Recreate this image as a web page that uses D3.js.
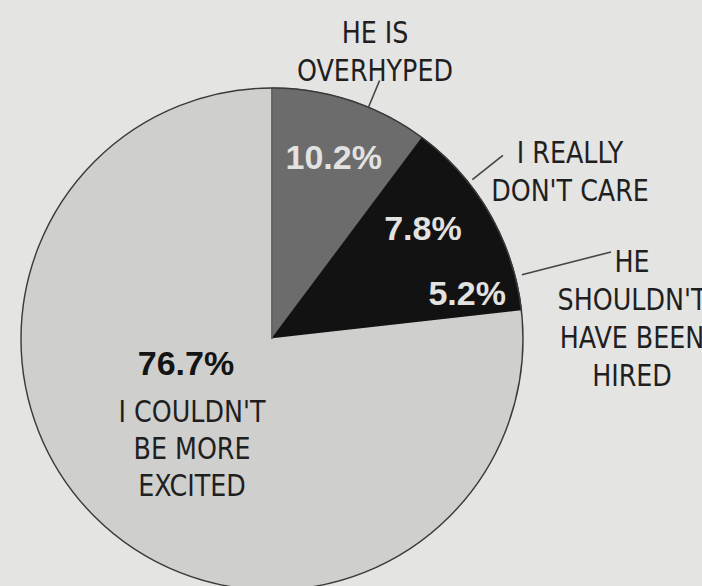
<!DOCTYPE html>
<html>
<head>
<meta charset="utf-8">
<script src="https://cdn.jsdelivr.net/npm/d3@7"></script>
<style>
  html, body { margin: 0; padding: 0; background: #e4e4e2; }
  svg { display: block; }
  .lbl { font-family: "Liberation Sans Narrow", "DejaVu Sans Condensed", "Liberation Sans", sans-serif; fill: #1f1f1f; }
  .pct { font-family: "Liberation Sans", Arial, sans-serif; font-weight: bold; }
</style>
</head>
<body>
<div id="chart"></div>
<script>
// survey answers, clockwise from 12 o'clock
const answers = ["HE IS OVERHYPED", "I REALLY DON'T CARE", "HE SHOULDN'T HAVE BEEN HIRED", "I COULDN'T BE MORE EXCITED"];
const shares = [10.2, 7.8, 5.2, 76.7];
const labelLines = [["HE IS", "OVERHYPED"], ["I REALLY", "DON'T CARE"], ["HE", "SHOULDN'T", "HAVE BEEN", "HIRED"], ["I COULDN'T", "BE MORE", "EXCITED"]];
const sliceColors = ["#6c6c6c", "#121212", "#121212", "#cfcfcd"];

const width = 702, height = 586;
const cx = 272, cy = 339, radius = 251;
const labelSize = 31, squeeze = 0.91;

const svg = d3.select("#chart").append("svg")
    .attr("width", width)
    .attr("height", height);

svg.append("rect").attr("width", width).attr("height", height).attr("fill", "#e4e4e2");

const g = svg.append("g").attr("transform", `translate(${cx},${cy})`);

const data = answers.map((a, i) => ({ answer: a, value: shares[i], lines: labelLines[i] }));

const color = d3.scaleOrdinal().domain(answers).range(sliceColors);

const pie = d3.pie().sort(null).value(d => d.value).startAngle(0).endAngle(2 * Math.PI);
const arcs = pie(data);

const arc = d3.arc().innerRadius(0).outerRadius(radius);

g.selectAll("path.slice")
    .data(arcs)
    .enter()
    .append("path")
    .attr("class", "slice")
    .attr("d", arc)
    .attr("fill", d => color(d.data.answer))
    .attr("stroke", d => color(d.data.answer))
    .attr("stroke-width", 1.5)
    .attr("stroke-linejoin", "round");

// dark edge where the big slice meets the grey one (12 o'clock)
g.append("line")
    .attr("x1", 0).attr("y1", 0)
    .attr("x2", 0).attr("y2", -radius)
    .attr("stroke", "#333")
    .attr("stroke-width", 1.3);

// outline
g.append("circle")
    .attr("r", radius)
    .attr("fill", "none")
    .attr("stroke", "#3a3a3a")
    .attr("stroke-width", 1.4);

// multi-line narrow label
function addLabel(x, y, lines, step) {
    const t = g.append("g")
        .attr("transform", `translate(${x},${y}) scale(${squeeze},1)`)
        .append("text")
        .attr("class", "lbl")
        .attr("text-anchor", "middle")
        .attr("font-size", labelSize);
    t.selectAll("tspan")
        .data(lines)
        .enter()
        .append("tspan")
        .attr("x", 0)
        .attr("y", (d, i) => i * step)
        .text(d => d);
}

// percentage labels inside slices
const pctPlace = [
    { r: 190, da: 0.01, dy: 10 },
    { r: 186, da: 0.06, dy: 10 },
    { r: 200, da: 0.055, dy: 10 }
];
arcs.slice(0, 3).forEach((d, i) => {
    const p = pctPlace[i];
    const a = (d.startAngle + d.endAngle) / 2 + p.da;
    g.append("text")
        .attr("class", "pct")
        .attr("x", Math.sin(a) * p.r)
        .attr("y", -Math.cos(a) * p.r + p.dy)
        .attr("text-anchor", "middle")
        .attr("font-size", 34)
        .attr("fill", "#e2e2e0")
        .text(d.data.value.toFixed(1) + "%");
});

// big slice: label set inside it
const big = arcs[3];
g.append("text")
    .attr("class", "pct")
    .attr("x", -86)
    .attr("y", 36)
    .attr("text-anchor", "middle")
    .attr("font-size", 34)
    .attr("fill", "#141414")
    .text(big.data.value.toFixed(1) + "%");
addLabel(-80, 83, big.data.lines, 37);

// outside labels with leader lines
const outside = [
    { a: 22.6, r0: radius, r1: 280, tx: 103, ty: -296 },
    { a: 51.5, r0: radius + 5, r1: 295, tx: 298, ty: -176 },
    { a: 75.6, r0: radius + 7, r1: 350, tx: 360, ty: -67 }
];
arcs.slice(0, 3).forEach((d, i) => {
    const o = outside[i];
    const a = o.a * Math.PI / 180;
    g.append("line")
        .attr("x1", Math.sin(a) * o.r0)
        .attr("y1", -Math.cos(a) * o.r0)
        .attr("x2", Math.sin(a) * o.r1)
        .attr("y2", -Math.cos(a) * o.r1)
        .attr("stroke", "#444")
        .attr("stroke-width", 1.6);
    addLabel(o.tx, o.ty, d.data.lines, 38);
});
</script>
</body>
</html>
